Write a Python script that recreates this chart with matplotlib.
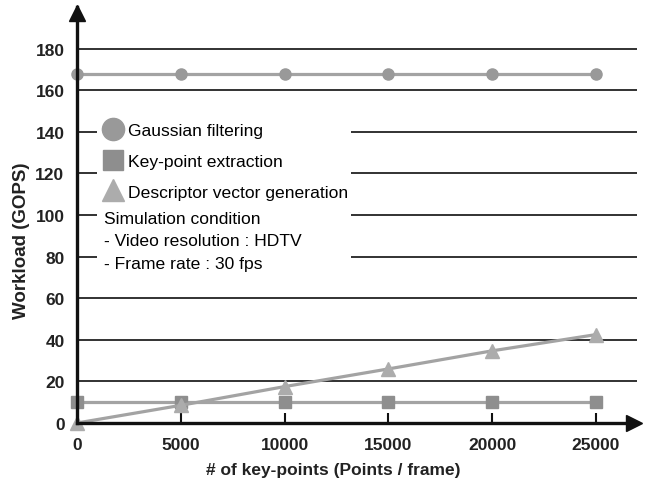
import matplotlib
matplotlib.use("Agg")
import matplotlib.pyplot as plt
from matplotlib.lines import Line2D
from matplotlib.patches import Rectangle
from matplotlib.transforms import offset_copy

plt.rcParams['font.family'] = ['Liberation Sans', 'DejaVu Sans']

keypoints = [0, 5000, 10000, 15000, 20000, 25000]
gaussian = [168, 168, 168, 168, 168, 168]
keypoint_ext = [10, 10, 10, 10, 10, 10]
descriptor = [0, 8.5, 17.5, 26, 34.7, 42.5]
yticks = [0, 20, 40, 60, 80, 100, 120, 140, 160, 180]
xticks = [0, 5000, 10000, 15000, 20000, 25000]
labels = ['Gaussian filtering', 'Key-point extraction', 'Descriptor vector generation']
condition = 'Simulation condition\n- Video resolution : HDTV\n- Frame rate : 30 fps'

W, H = 645, 485
fig = plt.figure(figsize=(6.45, 4.85), dpi=100)
ax = fig.add_axes([77 / W, 1 - 424 / H, 560 / W, 416 / H])
ax.set_xlim(0, 560 / 519 * 25000)
ax.set_ylim(0, 200)

line_c = '#a3a3a3'
c_circ = '#999999'
c_sq = '#8e8e8e'
c_tri = '#acacac'

for y in yticks[1:]:
    ax.axhline(y, color='#222222', lw=1.3, zorder=1)

ax.plot(keypoints, gaussian, color=line_c, lw=2.3, marker='o', ms=8,
        mfc=c_circ, mec=c_circ, clip_on=False, zorder=4)
ax.plot(keypoints, keypoint_ext, color=line_c, lw=2.3, marker='s', ms=8,
        mfc=c_sq, mec=c_sq, clip_on=False, zorder=4)
ax.plot(keypoints, descriptor, color=line_c, lw=2.3, marker='^', ms=10,
        mfc=c_tri, mec=c_tri, clip_on=False, zorder=5)

# white area behind legend
ax.add_patch(Rectangle((97 / W, 1 - 276 / H), 254 / W, 163 / H,
                       transform=fig.transFigure, facecolor='white',
                       edgecolor='none', zorder=2))

handles = [
    Line2D([], [], ls='none', marker='o', ms=16, mfc=c_circ, mec=c_circ),
    Line2D([], [], ls='none', marker='s', ms=15, mfc=c_sq, mec=c_sq),
    Line2D([], [], ls='none', marker='^', ms=16, mfc=c_tri, mec=c_tri),
]
leg = ax.legend(handles, labels, loc='upper left',
                bbox_to_anchor=(104 / W, 1 - 124 / H), bbox_transform=fig.transFigure,
                frameon=False, fontsize=12.6, handlelength=1.0, handletextpad=0.35,
                labelspacing=0.88, borderpad=0.0, borderaxespad=0)
leg.set_zorder(6)

ax.text(104 / W, 1 - 212 / H, condition, fontsize=12.6, va='top', ha='left',
        linespacing=1.62, zorder=6, transform=fig.transFigure)

for s in ['top', 'right']:
    ax.spines[s].set_visible(False)
for s in ['left', 'bottom']:
    ax.spines[s].set_linewidth(2.4)
    ax.spines[s].set_color('#111111')
    ax.spines[s].set_zorder(7)

ax.plot([0], [1], marker='^', ms=11, color='#111111', clip_on=False,
        transform=offset_copy(ax.get_xaxis_transform(), fig, x=0, y=-6, units='dots'), zorder=8)
ax.plot([1], [0], marker='>', ms=11, color='#111111', clip_on=False,
        transform=offset_copy(ax.get_yaxis_transform(), fig, x=-3, y=0, units='dots'), zorder=8)

ax.set_yticks(yticks)
ax.set_yticklabels([str(v) for v in yticks], fontweight='bold', fontsize=12.5, color='#222222')
ax.tick_params(axis='y', length=0, pad=9)
ax.set_xticks(xticks)
ax.set_xticklabels([str(v) for v in xticks], fontweight='bold', fontsize=12.5, color='#222222')
ax.tick_params(axis='x', direction='in', length=7, width=1.5, pad=10, color='#111111')
ax.xaxis.get_major_ticks()[0].tick1line.set_visible(False)

fig.text(333 / W, 1 - 471 / H, '# of key-points (Points / frame)', fontweight='bold',
         fontsize=12.5, ha='center', va='center', color='#222222')
fig.text(22 / W, 1 - 241 / H, 'Workload (GOPS)', fontweight='bold', fontsize=13.5,
         ha='center', va='center', rotation=90, color='#222222')

fig.savefig('out.png', dpi=100)
